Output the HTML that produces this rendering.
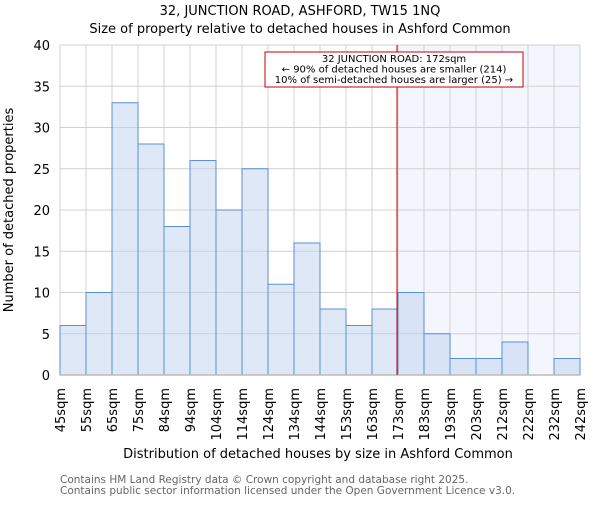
<!DOCTYPE html>
<html><head><meta charset="utf-8"><style>
body{margin:0;background:#fff}
text{font-family:"DejaVu Sans","Liberation Sans",sans-serif}
</style></head><body>
<svg id="c" width="600" height="500">
<text x="300" y="15" text-anchor="middle" font-size="13">32, JUNCTION ROAD, ASHFORD, TW15 1NQ</text>
<text x="300" y="33" text-anchor="middle" font-size="13">Size of property relative to detached houses in Ashford Common</text>
<g id="plot"></g>
<text x="318" y="458" text-anchor="middle" font-size="13">Distribution of detached houses by size in Ashford Common</text>
<text transform="translate(13,210) rotate(-90)" text-anchor="middle" font-size="13">Number of detached properties</text>
<text x="60" y="483" font-size="10.5" fill="#666">Contains HM Land Registry data © Crown copyright and database right 2025.</text>
<text x="60" y="494" font-size="10.5" fill="#666">Contains public sector information licensed under the Open Government Licence v3.0.</text>
</svg>
<script>
const categories=["45sqm","55sqm","65sqm","75sqm","84sqm","94sqm","104sqm","114sqm","124sqm","134sqm","144sqm","153sqm","163sqm","173sqm","183sqm","193sqm","203sqm","212sqm","222sqm","232sqm","242sqm"];
const counts=[6,10,33,28,18,26,20,25,11,16,8,6,8,10,5,2,2,4,0,2];
const yTicks=[0,5,10,15,20,25,30,35,40];
const markerBin=13;
const NS="http://www.w3.org/2000/svg";
const g=document.getElementById('plot');
const X0=60,X1=580,Y0=375,Y1=45,yMax=40;
const bw=(X1-X0)/counts.length;
const xs=i=>X0+i*bw, ys=v=>Y0-(Y0-Y1)*v/yMax;
function mk(t,a,p){const e=document.createElementNS(NS,t);for(const k in a)e.setAttribute(k,a[k]);(p||g).appendChild(e);return e;}
let r=mk('rect',{x:xs(markerBin),y:Y1,width:X1-xs(markerBin),height:Y0-Y1,fill:'#f3f6fd'});


yTicks.forEach(t=>{const l=mk('line',{x1:X0,x2:X1,y1:ys(t),y2:ys(t),stroke:'#d0d0d0','stroke-width':1});


const tx=mk('text',{x:X0-10,y:ys(t)+5,'text-anchor':'end','font-size':13});tx.textContent=t;

});
categories.forEach((c,i)=>{const x=xs(i);const l=mk('line',{x1:x,x2:x,y1:Y1,y2:Y0,stroke:'#d0d0d0','stroke-width':1});


const tx=mk('text',{transform:`translate(${x+5},388) rotate(-90)`,'text-anchor':'end','font-size':13});tx.textContent=c;

});
counts.forEach((v,i)=>{if(v<=0)return;const b=mk('rect',{x:xs(i),y:ys(v),width:bw,height:Y0-ys(v),fill:'rgba(190,210,238,0.5)',stroke:'#5a8fd6','stroke-width':1});

});
const ax=mk('line',{x1:X0,x2:X1,y1:Y0,y2:Y0,stroke:'#bbb','stroke-width':1.5});


const ml=mk('line',{x1:xs(markerBin)-1,x2:xs(markerBin)-1,y1:Y1,y2:Y0,stroke:'#cc0000','stroke-width':1});


const box=mk('rect',{x:265,y:52,width:258,height:35,fill:'#fff',stroke:'#cc0000','stroke-width':1});


["32 JUNCTION ROAD: 172sqm","← 90% of detached houses are smaller (214)","10% of semi-detached houses are larger (25) →"].forEach((s,k)=>{const t=mk('text',{x:394,y:62+k*10.5,'text-anchor':'middle','font-size':10});t.textContent=s;

});
</script>
</body></html>
